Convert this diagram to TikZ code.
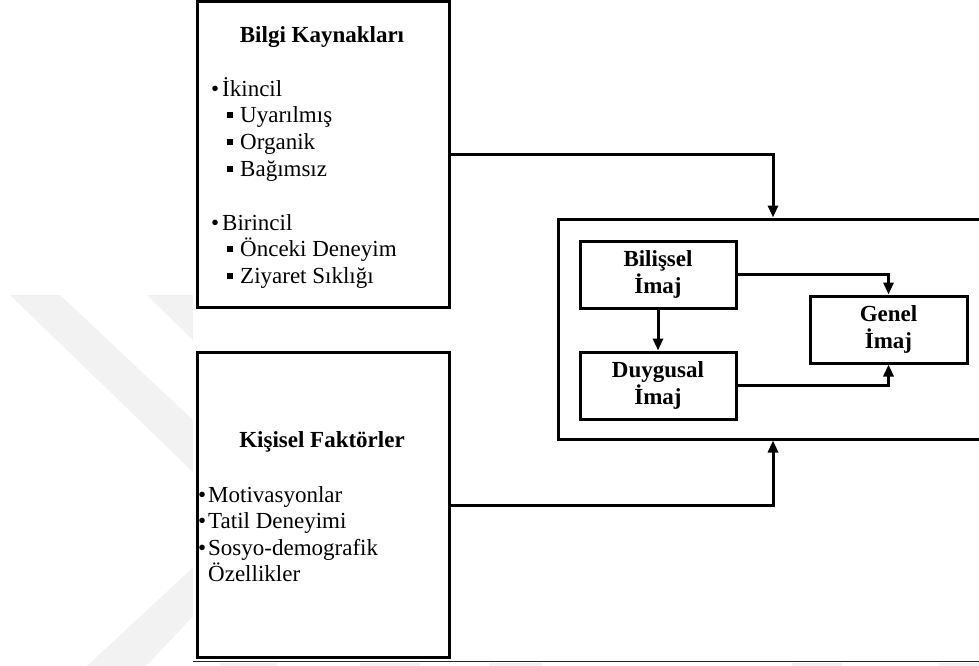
\documentclass[tikz,border=0pt]{standalone}
\usepackage{fontspec}
\setmainfont{Liberation Serif}
\usetikzlibrary{arrows.meta,positioning}

\tikzset{
  box/.style={draw=black, line width=3pt, fill=white, rectangle, inner sep=0pt, line join=miter},
  imgbox/.style={box, minimum width=156pt, minimum height=67pt, align=center,
                 font=\fontsize{23}{26.5}\selectfont\bfseries},
  link/.style={line width=3pt, line join=miter, -{Triangle[width=10pt,length=12pt]}},
  title/.style={anchor=base, inner sep=0pt, font=\fontsize{23}{26}\selectfont\bfseries},
  item/.style={anchor=base west, inner sep=0pt, font=\fontsize{23}{26}\selectfont},
  dot/.style={anchor=base west, inner sep=0pt, font=\fontsize{23}{26}\selectfont},
  sq/.style={fill=black},
  wmark/.style={fill=black!5, draw=none}
}

\begin{document}
\begin{tikzpicture}[x=1pt, y=-1pt]
\useasboundingbox (0,0) rectangle (979,666);
\clip (0,0) rectangle (979,666);

% faint background emblem
\fill[wmark] (10,295) -- (60,295) -- (260,483) -- (260,537) -- cycle;
\fill[wmark] (147,295) -- (260,295) -- (260,406) -- cycle;
\fill[wmark] (87,666) -- (146,666) -- (260,546) -- (260,505) -- cycle;
\foreach \a/\b in {220/277, 360/420, 489/542, 792/842, 939/979}
  \fill[wmark] (\a,663) rectangle (\b,666);

% white sheet carrying the model
\fill[white] (193,0) rectangle (979,661);
\draw[line width=1pt, black!85] (193,661) -- (979,661);

% source boxes
\node[box, minimum width=252pt, minimum height=305pt] (bk) at (323,154.5) {};
\node[box, minimum width=252pt, minimum height=305pt] (kf) at (323,505) {};

% image block
\node[box, minimum width=430pt, minimum height=220pt] (img) at (773,329) {};
\node[imgbox] (bil) at (658,274.5) {Bilişsel\\İmaj};
\node[imgbox] (duy) at (658,385.5) {Duygusal\\İmaj};
\node[imgbox, minimum width=157pt] (gen) at (888.5,329.5) {Genel\\İmaj};

% texts of the information-sources box
\node[title] (bkt) at (322,43) {Bilgi Kaynakları};
\node[dot]  (b1) at (211,97)  {•};
\node[item] (t1) at (222,97)  {İkincil};
\node[item] (t2) at (240,123) {Uyarılmış};
\node[item] (t3) at (240,149) {Organik};
\node[item] (t4) at (240,176) {Bağımsız};
\node[dot]  (b2) at (211,230) {•};
\node[item] (t5) at (222,230) {Birincil};
\node[item] (t6) at (240,256) {Önceki Deneyim};
\node[item] (t7) at (240,283) {Ziyaret Sıklığı};
\foreach \yy in {123,149,176,256,283}
  \fill[sq] (226.5,\yy-10.5) rectangle (232.5,\yy-4.5);

% texts of the personal-factors box
\node[title] (kft) at (322,447) {Kişisel Faktörler};
\node[dot]  (k1) at (198,502) {•};
\node[item] (m1) at (208,502) {Motivasyonlar};
\node[dot]  (k2) at (198,528) {•};
\node[item] (m2) at (208,528) {Tatil Deneyimi};
\node[dot]  (k3) at (198,555) {•};
\node[item] (m3) at (208,555) {Sosyo-demografik};
\node[item] (m4) at (208,581) {Özellikler};

% connectors
\draw[link] (bk.east) -| (img.north);
\draw[link] (kf.east) -| (img.south);
\draw[link] (bil.south) -- (duy.north);
\draw[link] (bil.east) -| (gen.north);
\draw[link] (duy.east) -| (gen.south);
\end{tikzpicture}
\end{document}
